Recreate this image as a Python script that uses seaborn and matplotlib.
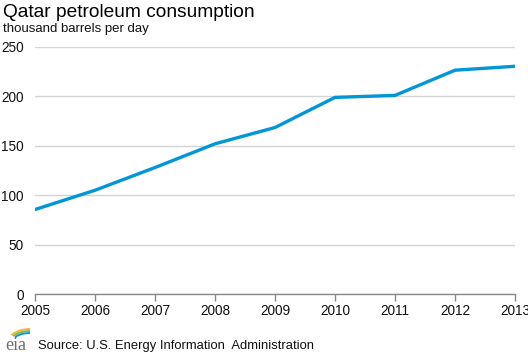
import matplotlib
matplotlib.use("Agg")
import matplotlib.pyplot as plt
import seaborn as sns
import pandas as pd
from matplotlib.patches import Arc

years = [2005, 2006, 2007, 2008, 2009, 2010, 2011, 2012, 2013]
consumption = [85.5, 105, 128, 152, 168.5, 199, 201, 226.5, 230.5]
yticks = [0, 50, 100, 150, 200, 250]

df = pd.DataFrame({"year": years, "value": consumption})

sns.set_theme(style="white")
plt.rcParams["font.family"] = ["Liberation Sans", "DejaVu Sans"]

fig = plt.figure(figsize=(5.28, 3.57), dpi=100)
ax = fig.add_axes([35/528, 63/357, 480/528, 247/357])

sns.lineplot(data=df, x="year", y="value", ax=ax, color="#0096d7", linewidth=2.4)

ax.set_xlim(2005, 2013)
ax.set_ylim(0, 250)
ax.set_yticks(yticks)
ax.set_xticks(years)
ax.set_xticklabels([str(y) for y in years], fontsize=9.8, color="#111111")
ax.set_yticklabels([str(v) for v in yticks], fontsize=9.8, color="#111111")
ax.grid(axis="y", color="#d4d4d4", linewidth=1)
ax.set_axisbelow(True)
for s in ["left", "right", "top"]:
    ax.spines[s].set_visible(False)
ax.spines["bottom"].set_color("#888888")
ax.spines["bottom"].set_linewidth(1)
ax.tick_params(axis="x", length=5, width=1, color="#888888", direction="out", pad=2, bottom=True)
ax.tick_params(axis="y", length=0, pad=8)
ax.set_xlabel("")
ax.set_ylabel("")

fig.text(3/528, 1 - 17/357, "Qatar petroleum consumption", fontsize=13.8, color="#000000", va="baseline")
fig.text(3/528, 1 - 32/357, "thousand barrels per day", fontsize=9.5, color="#111111", va="baseline")
fig.text(38/528, 1 - 349/357, "Source: U.S. Energy Information  Administration", fontsize=9.4, color="#111111", va="baseline")

# eia logo
fig.text(5/528, 1 - 350/357, "eia", fontsize=13, color="#6d6d6d", family=["Liberation Serif", "DejaVu Serif"], va="baseline")
lax = fig.add_axes([4/528, 1 - 342/357, 26/528, 16/357])
lax.set_xlim(0, 26)
lax.set_ylim(0, 16)
lax.axis("off")
for w, h, c in [(46, 30, "#f3b51c"), (42, 26, "#7ab648"), (38, 22, "#0096d7")]:
    lax.add_patch(Arc((26, -2), w, h, theta1=90, theta2=155, color=c, linewidth=1.3, clip_on=False))

fig.savefig("out.png", dpi=100)
